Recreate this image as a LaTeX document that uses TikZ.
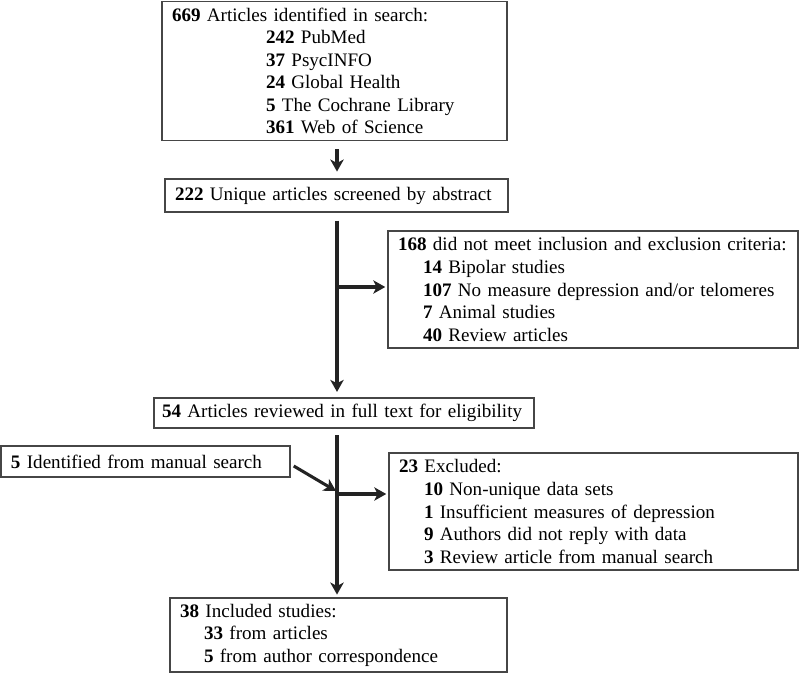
\documentclass[tikz,border=0pt]{standalone}
\usepackage{fontspec}
\setmainfont{Liberation Serif}
\usepackage{tikz}
\usetikzlibrary{arrows.meta}
\definecolor{boxgray}{RGB}{70, 70, 70}
\definecolor{arrgray}{RGB}{35, 35, 35}

\tikzset{
  box/.style={draw=boxgray, line width=1.1pt, align=left, inner xsep=7.5pt,
    inner ysep=0pt, font=\fontsize{14.3}{16.9}\selectfont},
  arr/.style={arrgray, line width=2.3pt, -{Stealth[length=9pt,width=10pt,inset=2.5pt]}}
}

\begin{document}
\begin{tikzpicture}[x=0.75pt,y=-0.75pt]
\useasboundingbox (0,0) rectangle (800,674);

% boxes down the middle
\node[box, text width=243.75pt, minimum height=104.25pt] (search) at (334.5,71)
  {\textbf{669} Articles identified in search:\\
   \hspace*{70.5pt}\textbf{242} PubMed\\
   \hspace*{70.5pt}\textbf{37} PsycINFO\\
   \hspace*{70.5pt}\textbf{24} Global Health\\
   \hspace*{70.5pt}\textbf{5} The Cochrane Library\\
   \hspace*{70.5pt}\textbf{361} Web of Science};
\node[box, text width=242.25pt, minimum height=24.75pt] (screen) at (336.5,195.5)
  {\textbf{222} Unique articles screened by abstract};
\node[box, inner xsep=6pt, text width=273pt, minimum height=22.5pt] (full) at (344,413)
  {\textbf{54} Articles reviewed in full text for eligibility};
\node[box, text width=237.75pt, minimum height=55.5pt] (incl) at (338.5,635)
  {\textbf{38} Included studies:\\
   \hspace*{18pt}\textbf{33} from articles\\
   \hspace*{18pt}\textbf{5} from author correspondence};

% side boxes
\node[box, text width=292.5pt, minimum height=87.75pt] (crit) at (593,289.5)
  {\textbf{168} did not meet inclusion and exclusion criteria:\\
   \hspace*{18.75pt}\textbf{14} Bipolar studies\\
   \hspace*{18.75pt}\textbf{107} No measure depression and/or telomeres\\
   \hspace*{18.75pt}\textbf{7} Animal studies\\
   \hspace*{18.75pt}\textbf{40} Review articles};
\node[box, text width=291.75pt, minimum height=87.75pt] (excl) at (593.5,511.5)
  {\textbf{23} Excluded:\\
   \hspace*{18.75pt}\textbf{10} Non-unique data sets\\
   \hspace*{18.75pt}\textbf{1} Insufficient measures of depression\\
   \hspace*{18.75pt}\textbf{9} Authors did not reply with data\\
   \hspace*{18.75pt}\textbf{3} Review article from manual search};
\node[box, text width=201.75pt, minimum height=23.25pt] (manual) at (145.5,461.5)
  {\textbf{5} Identified from manual search};

% joints on the main line
\coordinate (spine) at (337,0);
\coordinate (j1) at (337,287);
\coordinate (j2) at (337,494);
\coordinate (m) at (336,491);

% arrows
\draw[arr, shorten <=6pt, shorten >=5pt] (search.south -| spine) -- (screen.north -| spine);
\draw[arr, shorten <=6pt, shorten >=4pt] (screen.south -| spine) -- (full.north -| spine);
\draw[arr, shorten <=5pt, shorten >=2pt] (full.south -| spine) -- (incl.north -| spine);
\draw[arr, shorten >=1.5pt] (j1) -- (j1 -| crit.west);
\draw[arr, shorten >=1.5pt] (j2) -- (j2 -| excl.west);
\draw[arr] ([shift={(3,4.5)}]manual.east) -- (m);
\end{tikzpicture}
\end{document}
